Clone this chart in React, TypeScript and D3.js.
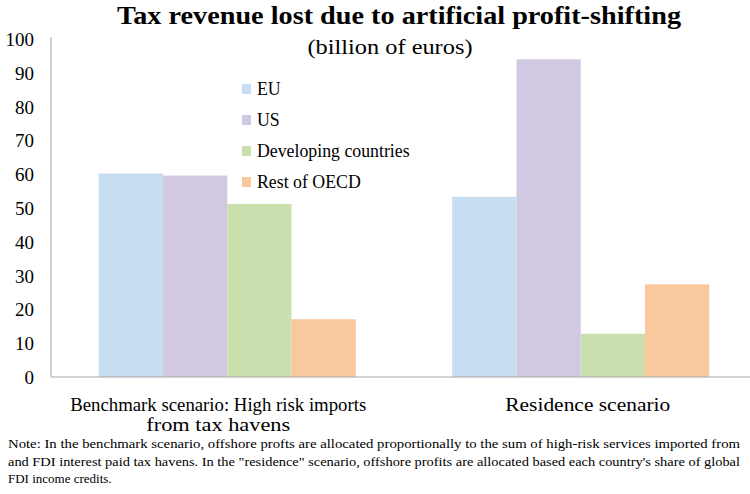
import React from "react";
import * as d3 from "d3";

const categories = ["Benchmark scenario: High risk imports|from tax havens", "Residence scenario"];
const seriesNames = ["EU", "US", "Developing countries", "Rest of OECD"];
const seriesColors = ["#c7ddf1", "#d1c9e1", "#c9dfae", "#f9c89c"];
const euValues = [60.2, 53.3];
const usValues = [59.6, 94.0];
const devValues = [51.2, 12.8];
const restValues = [17.1, 27.4];
const yTicks = [0, 10, 20, 30, 40, 50, 60, 70, 80, 90, 100];
const title = "Tax revenue lost due to artificial profit-shifting";
const subtitle = "(billion of euros)";
const noteLines = [
  "Note:  In the benchmark scenario, offshore profts are allocated proportionally to the sum of high-risk services imported from",
  "and FDI interest paid tax havens. In the \"residence\" scenario, offshore profits are allocated based each country's share of global",
  "FDI income credits.",
];

const W = 750;
const H = 494;
const font = "'Liberation Serif', 'DejaVu Serif', serif";

export default function App() {
  const values = [euValues, usValues, devValues, restValues];
  const y = d3.scaleLinear().domain([0, 100]).range([377, 39]);
  const x0 = d3.scaleBand<number>().domain([0, 1]).range([50.5, 757.5]).paddingInner(0).paddingOuter(0);
  const groupFrac = 0.727;
  const x1 = d3
    .scaleBand<number>()
    .domain([0, 1, 2, 3])
    .range([0, x0.bandwidth() * groupFrac]);
  const groupOffset = (x0.bandwidth() * (1 - groupFrac)) / 2;
  const labelShift = [-9, 7];
  const labelLens = [[296, 144], [165]];
  const noteLens = [732, 732, 0];

  return (
    <svg width={W} height={H} style={{ position: "absolute", left: 0, top: 0, background: "#fff" }}>
      <rect x={0} y={0} width={W} height={H} fill="#fff" />
      <text x={399} y={24} textAnchor="middle" fontFamily={font} fontWeight="bold" fontSize={25} fill="#000"
        textLength={564} lengthAdjust="spacingAndGlyphs">
        {title}
      </text>
      <text x={390} y={54} textAnchor="middle" fontFamily={font} fontSize={22} fill="#000"
        textLength={165} lengthAdjust="spacingAndGlyphs">
        {subtitle}
      </text>
      {/* bars */}
      {categories.map((c, ci) =>
        values.map((vals, si) => {
          const bx = (x0(ci) as number) + groupOffset + (x1(si) as number);
          return (
            <rect
              key={`${ci}-${si}`}
              x={bx}
              y={y(vals[ci])}
              width={x1.bandwidth()}
              height={y(0) - y(vals[ci])}
              fill={seriesColors[si]}
            />
          );
        })
      )}
      {/* axes */}
      <line x1={51} x2={51} y1={y(100) - 2} y2={y(0)} stroke="#a6a6a6" strokeWidth={1} />
      <line x1={51} x2={W} y1={y(0)} y2={y(0)} stroke="#a6a6a6" strokeWidth={1} />
      {yTicks.map((t) => (
        <text key={t} x={34} y={y(t) + 7} textAnchor="end" fontFamily={font} fontSize={19} fill="#000">
          {t}
        </text>
      ))}
      {/* category labels */}
      {categories.map((c, ci) => {
        const cx = (x0(ci) as number) + x0.bandwidth() / 2 + labelShift[ci];
        return c.split("|").map((line, li) => (
          <text key={`${ci}-${li}`} x={cx} y={411 + li * 20} textAnchor="middle" fontFamily={font} fontSize={18.5} fill="#000"
            textLength={labelLens[ci][li]} lengthAdjust="spacingAndGlyphs">
            {line}
          </text>
        ));
      })}
      {/* legend */}
      {seriesNames.map((n, i) => (
        <g key={n} transform={`translate(242, ${91 + i * 31})`}>
          <rect x={0} y={-7} width={9} height={10} fill={seriesColors[i]} />
          <text x={15} y={4} fontFamily={font} fontSize={17.8} fill="#000">
            {n}
          </text>
        </g>
      ))}
      {/* note */}
      {noteLines.map((l, i) => (
        <text key={i} x={8} y={448 + i * 17.5} fontFamily={font} fontSize={13} fill="#000"
          {...(noteLens[i] ? { textLength: noteLens[i], lengthAdjust: "spacingAndGlyphs" } : {})}>
          {l}
        </text>
      ))}
    </svg>
  );
}
